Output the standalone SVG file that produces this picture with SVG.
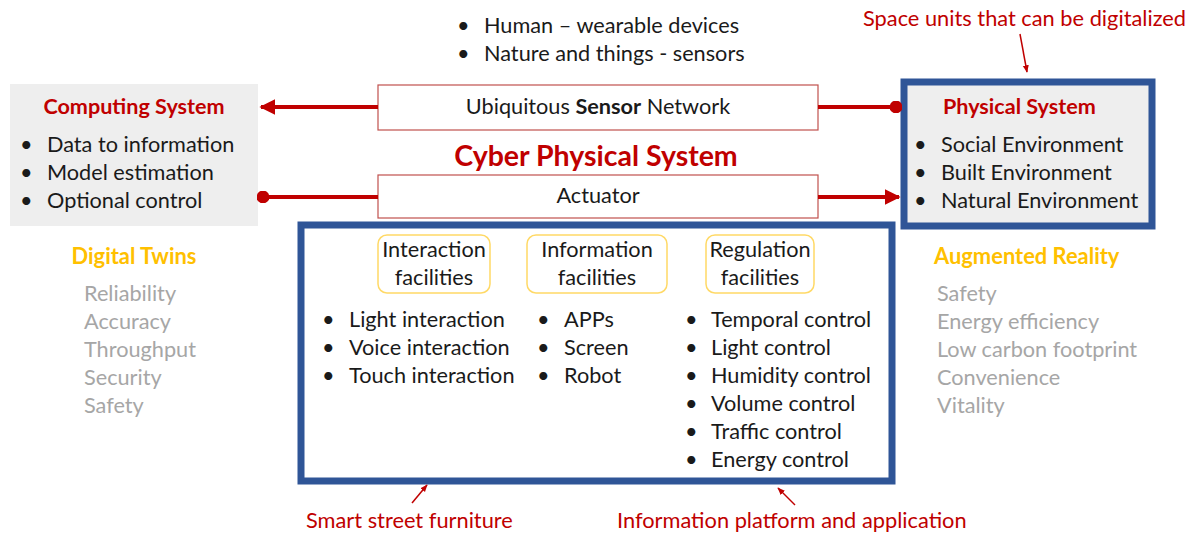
<svg xmlns="http://www.w3.org/2000/svg" width="1192" height="533" viewBox="0 0 1192 533">
  <defs>
    <marker id="arrow" viewBox="0 0 10 10" refX="9" refY="5" markerWidth="4" markerHeight="4" orient="auto">
      <path d="M0,0 L10,5 L0,10 z" fill="#c00000"/>
    </marker>
    <marker id="arrowThin" viewBox="0 0 10 10" refX="9" refY="5" markerWidth="5" markerHeight="5" orient="auto">
      <path d="M0,1 L10,5 L0,9 z" fill="#c00000"/>
    </marker>
    <marker id="dot" viewBox="0 0 10 10" refX="5" refY="5" markerWidth="3.2" markerHeight="3.2">
      <circle cx="5" cy="5" r="5" fill="#c00000"/>
    </marker>
  </defs>
  <style>
    text { font-family: Lato, "Open Sans", "Liberation Sans", sans-serif; font-size: 21.7px; fill: #1a1a1a; }
    .title { fill: #c00000; font-weight: bold; font-size: 21.6px; }
    .big { font-size: 28.5px; }
    .note { fill: #c00000; font-size: 21.8px; }
    .gold { fill: #ffc000; font-weight: bold; font-size: 21.9px; }
    .grey { fill: #a6a6a6; }
    .mid { text-anchor: middle; }
    .panel { fill: #eeeeee; }
    .blue { fill: none; stroke: #2f5597; stroke-width: 7; }
    .bar { fill: #ffffff; stroke: #c0504d; stroke-width: 1.2; }
    .fac { fill: #ffffff; stroke: #ffd966; stroke-width: 1.5; }
    .link { stroke: #c00000; stroke-width: 4; fill: none; }
    .pointer { stroke: #c00000; stroke-width: 1.5; fill: none; }
  </style>

  <rect width="1192" height="533" fill="#ffffff"/>

  <!-- sensing sources -->
  <g id="sources">
    <text x="457" y="33">•</text>
    <text x="484" y="33">Human – wearable devices</text>
    <text x="457" y="61">•</text>
    <text x="484" y="61">Nature and things - sensors</text>
  </g>

  <!-- computing side -->
  <g id="computing-system">
    <rect class="panel" x="10" y="84" width="248" height="142"/>
    <text class="title mid" x="134" y="114">Computing System</text>
    <text x="20" y="152">•</text><text x="47" y="152">Data to information</text>
    <text x="20" y="180">•</text><text x="47" y="180">Model estimation</text>
    <text x="20" y="208">•</text><text x="47" y="208">Optional control</text>
  </g>

  <g id="sensor-network">
    <rect class="bar" x="378" y="85" width="440" height="45"/>
    <text class="mid" x="598" y="114">Ubiquitous <tspan font-weight="bold">Sensor</tspan> Network</text>
  </g>

  <g id="cps-title">
    <text class="title big mid" x="596" y="166">Cyber Physical System</text>
  </g>

  <g id="actuator">
    <rect class="bar" x="378" y="175" width="440" height="43"/>
    <text class="mid" x="598" y="203">Actuator</text>
  </g>

  <!-- physical side -->
  <g id="physical-system">
    <rect class="panel" x="904" y="82" width="248" height="144"/>
    <rect class="blue" x="904" y="82" width="248" height="144" stroke-width="8"/>
    <text class="title" x="943" y="114">Physical System</text>
    <text x="914" y="152">•</text><text x="941" y="152">Social Environment</text>
    <text x="914" y="180">•</text><text x="941" y="180">Built Environment</text>
    <text x="914" y="208">•</text><text x="941" y="208">Natural Environment</text>
  </g>

  <g id="space-units-note">
    <text class="note" x="863" y="26">Space units that can be digitalized</text>
  </g>

  <!-- street furniture / platform -->
  <g id="facilities">
    <rect class="blue" x="301" y="225" width="591" height="256"/>
    <rect class="fac" x="378" y="235" width="112" height="58" rx="9"/>
    <text class="mid" x="434" y="257">Interaction</text>
    <text class="mid" x="434" y="285">facilities</text>
    <rect class="fac" x="527" y="235" width="140" height="58" rx="9"/>
    <text class="mid" x="597" y="257">Information</text>
    <text class="mid" x="597" y="285">facilities</text>
    <rect class="fac" x="706" y="235" width="108" height="58" rx="9"/>
    <text class="mid" x="760" y="257">Regulation</text>
    <text class="mid" x="760" y="285">facilities</text>

    <text x="322" y="327">•</text><text x="349" y="327">Light interaction</text>
    <text x="322" y="355">•</text><text x="349" y="355">Voice interaction</text>
    <text x="322" y="383">•</text><text x="349" y="383">Touch interaction</text>

    <text x="537" y="327">•</text><text x="564" y="327">APPs</text>
    <text x="537" y="355">•</text><text x="564" y="355">Screen</text>
    <text x="537" y="383">•</text><text x="564" y="383">Robot</text>

    <text x="685" y="327">•</text><text x="711" y="327">Temporal control</text>
    <text x="685" y="355">•</text><text x="711" y="355">Light control</text>
    <text x="685" y="383">•</text><text x="711" y="383">Humidity control</text>
    <text x="685" y="411">•</text><text x="711" y="411">Volume control</text>
    <text x="685" y="439">•</text><text x="711" y="439">Traffic control</text>
    <text x="685" y="467">•</text><text x="711" y="467">Energy control</text>
  </g>

  <g id="digital-twins">
    <text class="gold mid" x="134" y="264">Digital Twins</text>
    <text class="grey" x="84" y="301">Reliability</text>
    <text class="grey" x="84" y="329">Accuracy</text>
    <text class="grey" x="84" y="357">Throughput</text>
    <text class="grey" x="84" y="385">Security</text>
    <text class="grey" x="84" y="413">Safety</text>
  </g>

  <g id="augmented-reality">
    <text class="gold" x="934" y="264">Augmented Reality</text>
    <text class="grey" x="937" y="301">Safety</text>
    <text class="grey" x="937" y="329">Energy efficiency</text>
    <text class="grey" x="937" y="357">Low carbon footprint</text>
    <text class="grey" x="937" y="385">Convenience</text>
    <text class="grey" x="937" y="413">Vitality</text>
  </g>

  <g id="bottom-notes">
    <text class="note" x="306" y="528">Smart street furniture</text>
    <text class="note" x="617" y="528">Information platform and application</text>
  </g>

  <!-- connectors -->
  <g id="connectors">
    <line class="link" x1="378" y1="107" x2="261" y2="107" marker-end="url(#arrow)"/>
    <line class="link" x1="818" y1="107" x2="896" y2="107" marker-end="url(#dot)"/>
    <line class="link" x1="378" y1="197" x2="263" y2="197" marker-end="url(#dot)"/>
    <line class="link" x1="818" y1="197" x2="899" y2="197" marker-end="url(#arrow)"/>
    <line class="pointer" x1="1020" y1="34" x2="1027" y2="72" marker-end="url(#arrowThin)"/>
    <line class="pointer" x1="412" y1="503" x2="427" y2="485" marker-end="url(#arrowThin)"/>
    <line class="pointer" x1="795" y1="505" x2="778" y2="488" marker-end="url(#arrowThin)"/>
  </g>
</svg>
